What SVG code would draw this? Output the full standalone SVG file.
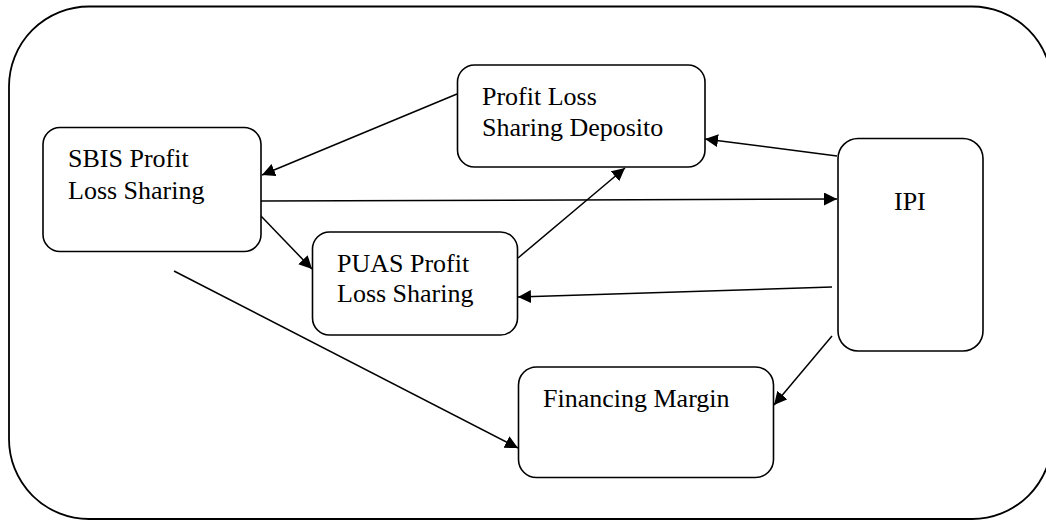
<svg xmlns="http://www.w3.org/2000/svg" width="1046" height="520" viewBox="0 0 1046 520">
  <style>
    .frame { fill: none; stroke: #000; stroke-width: 1.8; }
    .box { fill: #fff; stroke: #000; stroke-width: 1.6; }
    .label { font-family: "Liberation Serif", "Times New Roman", serif; font-size: 26px; fill: #000; }
    .edge { fill: none; stroke: #000; stroke-width: 1.5; marker-end: url(#head); }
  </style>
  <defs>
    <marker id="head" markerUnits="userSpaceOnUse" markerWidth="14" markerHeight="14" refX="13" refY="6.5" orient="auto">
      <path d="M0,0 L13,6.5 L0,13 z" fill="#000"/>
    </marker>
  </defs>

  <rect width="1046" height="520" fill="#fff"/>

  <!-- enclosing frame -->
  <rect class="frame" x="9" y="6.5" width="1043" height="512.5" rx="80" ry="80"/>

  <g id="connectors">
    <line class="edge" x1="457" y1="94" x2="262" y2="175"/>
    <line class="edge" x1="261" y1="201" x2="837" y2="199"/>
    <line class="edge" x1="260" y1="215" x2="312" y2="269"/>
    <line class="edge" x1="518" y1="258" x2="625" y2="168"/>
    <line class="edge" x1="837" y1="156" x2="705" y2="139"/>
    <line class="edge" x1="832" y1="287" x2="518" y2="297"/>
    <line class="edge" x1="174" y1="271" x2="518" y2="448"/>
    <line class="edge" x1="832" y1="336" x2="774" y2="405"/>
  </g>

  <g id="node-sbis">
    <rect class="box" x="43" y="127.5" width="218" height="124" rx="17" ry="17"/>
    <text class="label" x="68" y="167">SBIS Profit</text>
    <text class="label" x="68" y="199">Loss Sharing</text>
  </g>

  <g id="node-deposito">
    <rect class="box" x="457.5" y="65" width="247.5" height="102" rx="17" ry="17"/>
    <text class="label" x="482" y="105">Profit Loss</text>
    <text class="label" x="482" y="136">Sharing Deposito</text>
  </g>

  <g id="node-puas">
    <rect class="box" x="312.5" y="232" width="205" height="103" rx="17" ry="17"/>
    <text class="label" x="337" y="272">PUAS Profit</text>
    <text class="label" x="337" y="302">Loss Sharing</text>
  </g>

  <g id="node-ipi">
    <rect class="box" x="838" y="138.5" width="145" height="212.5" rx="20" ry="20"/>
    <text class="label" x="894" y="210">IPI</text>
  </g>

  <g id="node-financing">
    <rect class="box" x="518.5" y="367" width="255" height="110.5" rx="18" ry="18"/>
    <text class="label" x="543" y="407">Financing Margin</text>
  </g>
</svg>
